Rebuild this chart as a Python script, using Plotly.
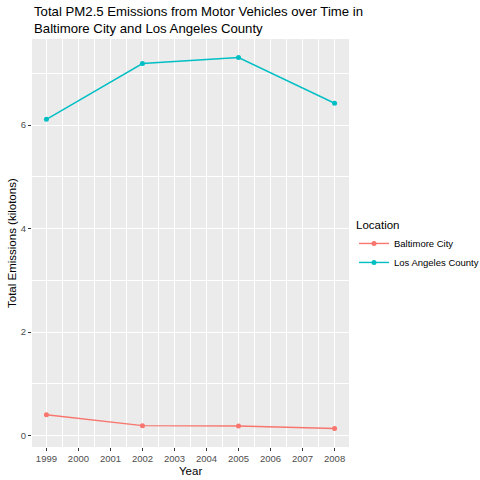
import plotly.graph_objects as go

years = [1999, 2002, 2005, 2008]
baltimore = [0.40377, 0.19201, 0.18541, 0.13824]
los_angeles = [6.10969, 7.18868, 7.30411, 6.42102]
x_ticks = list(range(1999, 2009))
y_ticks = [0, 2, 4, 6]

font = "Liberation Sans, Arial, sans-serif"
L, R, T, B = 32, 131, 39, 33
PW, PH = 480 - L - R, 480 - T - B

fig = go.Figure()
fig.add_trace(go.Scatter(x=years, y=baltimore, name="Baltimore City", mode="lines+markers",
                         line=dict(color="#F8766D", width=1.4), marker=dict(size=5, color="#F8766D")))
fig.add_trace(go.Scatter(x=years, y=los_angeles, name="Los Angeles County", mode="lines+markers",
                         line=dict(color="#00BFC4", width=1.4), marker=dict(size=5, color="#00BFC4")))

lo = min(baltimore); hi = max(los_angeles); pad = (hi - lo) * 0.05
xpad = (max(x_ticks) - min(x_ticks)) * 0.05

fig.update_layout(
    width=480, height=480,
    margin=dict(l=L, r=R, t=T, b=B, autoexpand=False),
    paper_bgcolor="white", plot_bgcolor="#EBEBEB",
    font=dict(family=font, color="black"),
    xaxis=dict(range=[min(x_ticks) - xpad, max(x_ticks) + xpad], tickvals=x_ticks, automargin=False,
               ticktext=[str(t) for t in x_ticks], showgrid=True, gridcolor="white", gridwidth=1.1,
               zeroline=False, ticks="outside", ticklen=3, tickwidth=1, tickcolor="#333333",
               tickfont=dict(size=9.5, color="#4D4D4D"),
               minor=dict(tickvals=[t + 0.5 for t in x_ticks[:-1]], showgrid=True, gridcolor="white", gridwidth=0.55, ticks="")),
    yaxis=dict(range=[lo - pad, hi + pad], tickvals=y_ticks, showgrid=True, gridcolor="white", gridwidth=1.1,
               zeroline=False, ticks="outside", ticklen=3, tickwidth=1, tickcolor="#333333", automargin=False,
               tickfont=dict(size=9.5, color="#4D4D4D"),
               minor=dict(tickvals=[1, 3, 5, 7], showgrid=True, gridcolor="white", gridwidth=0.55, ticks="")),
    legend=dict(title=dict(text="Location", font=dict(size=11.5)), font=dict(size=9.5),
                x=(354 - L) / PW, xanchor="left", y=(480 - B - 214) / PH, yanchor="top", bgcolor="rgba(0,0,0,0)",
                tracegroupgap=0, itemwidth=30),
    annotations=[
        dict(text="Total PM2.5 Emissions from Motor Vehicles over Time in<br>Baltimore City and Los Angeles County",
             xref="paper", yref="paper", x=0, y=1 + 37 / PH, xanchor="left", yanchor="top", align="left",
             showarrow=False, font=dict(size=13.2, color="black")),
        dict(text="Year", xref="paper", yref="paper", x=0.5, y=-(471 - (480 - B)) / PH, xanchor="center",
             yanchor="middle", showarrow=False, font=dict(size=11.5, color="black")),
        dict(text="Total Emissions (kilotons)", xref="paper", yref="paper", x=-(L - 12) / PW, y=0.5,
             xanchor="center", yanchor="middle", textangle=-90, showarrow=False, font=dict(size=11.5, color="black")),
    ],
)

fig.write_html("out.html")
